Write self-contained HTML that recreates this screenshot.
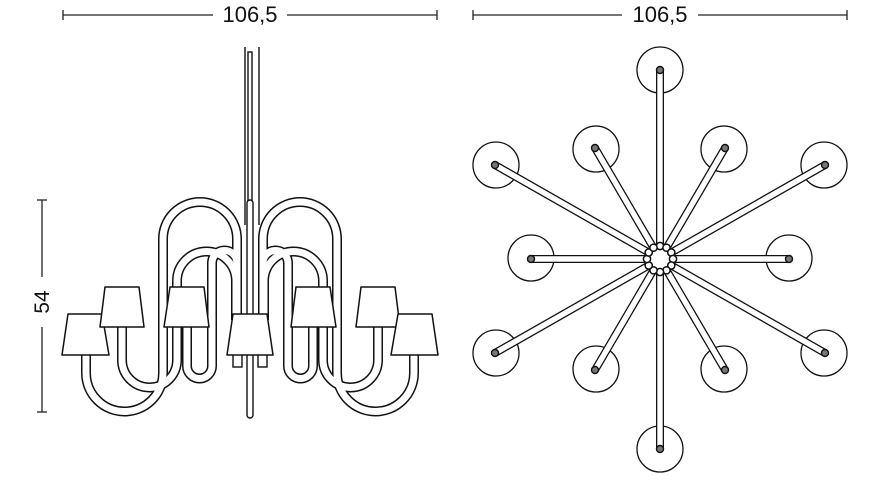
<!DOCTYPE html>
<html><head><meta charset="utf-8"><style>
html,body{margin:0;padding:0;background:#fff;}
svg{display:block;}
text{font-family:"Liberation Sans",sans-serif;fill:#111;}
</style></head><body>
<svg width="892" height="500" viewBox="0 0 892 500" xmlns="http://www.w3.org/2000/svg">
<!-- dimensions -->
<g stroke="#222" stroke-width="1.3" fill="none">
<line x1="63" y1="15" x2="213" y2="15"/><line x1="63" y1="10" x2="63" y2="20"/>
<line x1="287" y1="15" x2="437" y2="15"/><line x1="437" y1="10" x2="437" y2="20"/>
<line x1="473" y1="15" x2="622" y2="15"/><line x1="473" y1="10" x2="473" y2="20"/>
<line x1="698" y1="15" x2="847" y2="15"/><line x1="847" y1="10" x2="847" y2="20"/>
<line x1="42" y1="200" x2="42" y2="277"/><line x1="37" y1="200" x2="47" y2="200"/>
<line x1="42" y1="327" x2="42" y2="412"/><line x1="37" y1="412" x2="47" y2="412"/>
</g>
<text x="250" y="22" font-size="22" text-anchor="middle">106,5</text>
<text x="660" y="22" font-size="22" text-anchor="middle">106,5</text>
<text transform="translate(49,302) rotate(-90)" font-size="21" text-anchor="middle">54</text>

<!-- left elevation -->
<defs>
<g id="half">
 <path d="M86,340 V373 A38.5,38.5 0 0 0 163,373 V239 A37,37 0 0 1 237,239 V320"/>
 <path d="M122,315 V360 A27.5,27.5 0 0 0 177,360 V281 A29.5,29.5 0 0 1 236,281 V320"/>
 <path d="M187,315 V366 A12.5,12.5 0 0 0 212,366 V263 A12.5,12.5 0 0 1 237,263 V320"/>
</g>
</defs>
<g fill="none" stroke-linecap="butt">
 <g stroke="#111" stroke-width="10"><use href="#half"/><use href="#half" transform="translate(500,0) scale(-1,1)"/></g>
 <g stroke="#fff" stroke-width="7"><use href="#half"/><use href="#half" transform="translate(500,0) scale(-1,1)"/></g>
</g>
<!-- rod -->
<rect x="245" y="47" width="14" height="175" fill="#fff"/>
<g stroke="#111" stroke-width="1.4" fill="#fff">
 <line x1="245" y1="47" x2="245" y2="225"/>
 <line x1="259" y1="47" x2="259" y2="225"/>
 <rect x="248" y="52" width="4" height="150"/>
 <rect x="247" y="200" width="6" height="218" rx="3"/>
 <rect x="233" y="350" width="9" height="17"/>
 <rect x="258" y="350" width="9" height="17"/>
</g>
<!-- shades -->
<g stroke="#111" stroke-width="1.5" fill="#fff" stroke-linejoin="round">
 <path d="M68,314 H102 L109,355 H62 Z"/>
 <path d="M105,287 H139 L144,327 H100 Z"/>
 <path d="M170,287 H204 L209,327 H164 Z"/>
 <path d="M233,314 H267 L273,355 H227 Z"/>
 <path d="M296,287 H330 L336,327 H291 Z"/>
 <path d="M361,287 H395 L400,327 H356 Z"/>
 <path d="M398,314 H432 L438,355 H391 Z"/>
</g>

<!-- right plan -->
<g stroke="#111" stroke-width="1.3" fill="#fff">
 <circle cx="660" cy="70" r="23"/><circle cx="660" cy="449" r="23"/>
 <circle cx="596" cy="149" r="23"/><circle cx="724" cy="149" r="23"/>
 <circle cx="496" cy="165" r="23"/><circle cx="824" cy="165" r="23"/>
 <circle cx="531" cy="258" r="23"/><circle cx="789" cy="258" r="23"/>
 <circle cx="496" cy="353" r="23"/><circle cx="824" cy="353" r="23"/>
 <circle cx="596" cy="369" r="23"/><circle cx="724" cy="369" r="23"/>
</g>
<defs>
<g id="spokes">
 <path d="M660,259 L660,70 M660,259 L660,449 M660,259 L595,148 M660,259 L725,148 M660,259 L495,165 M660,259 L825,165 M660,259 L531,259 M660,259 L789,259 M660,259 L495,353 M660,259 L825,353 M660,259 L595,370 M660,259 L725,370"/>
</g>
</defs>
<g fill="none" stroke-linecap="round">
 <use href="#spokes" stroke="#111" stroke-width="8"/>
 <use href="#spokes" stroke="#fff" stroke-width="5.4"/>
</g>
<g stroke="#111" stroke-width="1.4" fill="#777">
 <circle cx="660" cy="70" r="3.5"/><circle cx="660" cy="449" r="3.5"/>
 <circle cx="595" cy="148" r="3.5"/><circle cx="725" cy="148" r="3.5"/>
 <circle cx="495" cy="165" r="3.5"/><circle cx="825" cy="165" r="3.5"/>
 <circle cx="531" cy="259" r="3.5"/><circle cx="789" cy="259" r="3.5"/>
 <circle cx="495" cy="353" r="3.5"/><circle cx="825" cy="353" r="3.5"/>
 <circle cx="595" cy="370" r="3.5"/><circle cx="725" cy="370" r="3.5"/>
</g>
<circle cx="660" cy="259" r="10" fill="#fff"/>
<g stroke="#111" stroke-width="1.5" fill="#fff">
 <circle cx="660" cy="246" r="3.6"/><circle cx="666.5" cy="247.7" r="3.6"/><circle cx="671.3" cy="252.5" r="3.6"/>
 <circle cx="673" cy="259" r="3.6"/><circle cx="671.3" cy="265.5" r="3.6"/><circle cx="666.5" cy="270.3" r="3.6"/>
 <circle cx="660" cy="272" r="3.6"/><circle cx="653.5" cy="270.3" r="3.6"/><circle cx="648.7" cy="265.5" r="3.6"/>
 <circle cx="647" cy="259" r="3.6"/><circle cx="648.7" cy="252.5" r="3.6"/><circle cx="653.5" cy="247.7" r="3.6"/>
</g>
</svg>
</body></html>
